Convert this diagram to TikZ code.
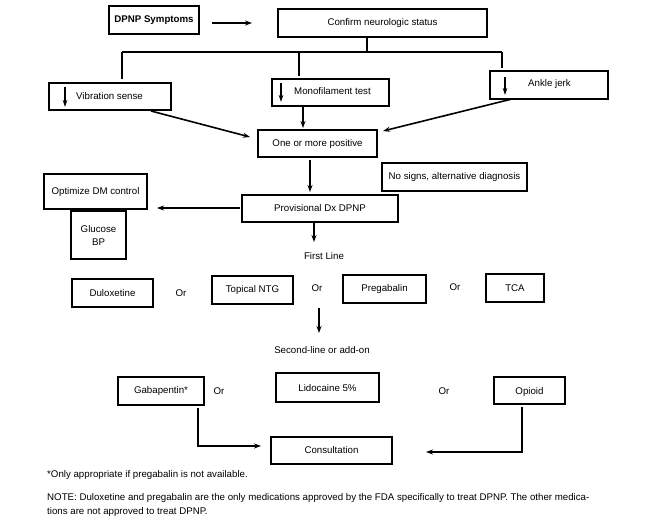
\documentclass[tikz,border=0pt]{standalone}
\usepackage{fontspec}
\setmainfont{Liberation Sans}
\usetikzlibrary{fit,arrows.meta}
\begin{document}
\begin{tikzpicture}[x=1pt,y=-1pt,
  every node/.style={font=\fontsize{9.7}{11.5}\selectfont},
  box/.style={draw, line width=2pt, inner sep=0pt},
  lab/.style={inner sep=0pt},
  conn/.style={line width=1.6pt},
  arr/.style={conn, -{Stealth[length=7pt,width=5pt]}},
  sarr/.style={line width=1.6pt, -{Stealth[length=7pt,width=4.5pt]}}]
\useasboundingbox (0,0) rectangle (662,519);
% boxes
\node[box, fit={(109,6)(199,34)}] (sym) {};
\node[lab, font=\fontsize{9.7}{11.5}\selectfont\bfseries] at (sym.center) {DPNP Symptoms};
\node[box, fit={(278,9)(487,37)}] (conf) {};
\node[lab] at (conf.center) {Confirm neurologic status};
\node[box, fit={(49,83)(171,110)}] (vib) {};
\node[lab, anchor=west] at (76,96) {Vibration sense};
\node[box, fit={(272,79)(389,106)}] (mono) {};
\node[lab, anchor=west] at (294,91) {Monofilament test};
\node[box, fit={(490,71)(608,99)}] (ankle) {};
\node[lab, anchor=west] at (528,84) {Ankle jerk};
\node[box, fit={(258,130)(377,157)}] (pos) {};
\node[lab] at (pos.center) {One or more positive};
\node[box, fit={(382,163)(527,191)}] (nosign) {};
\node[lab] at (nosign.center) {No signs, alternative diagnosis};
\node[box, fit={(44,174)(147,209)}] (opt) {};
\node[lab] at (opt.center) {Optimize DM control};
\node[box, fit={(71,211)(126,259)}] (gluc) {};
\node[lab, align=center, font=\fontsize{9.7}{13}\selectfont] at (gluc.center) {Glucose\\BP};
\node[box, fit={(242,195)(398,222)}] (prov) {};
\node[lab] at (prov.center) {Provisional Dx DPNP};
\node[lab] (first) at (324,256) {First Line};
\node[box, fit={(72,279)(153,307)}] (dul) {};
\node[lab] at (dul.center) {Duloxetine};
\node[lab] (or1) at (181,293) {Or};
\node[box, fit={(212,276)(293,304)}] (ntg) {};
\node[lab] at (ntg.center) {Topical NTG};
\node[lab] (or2) at (317,288) {Or};
\node[box, fit={(343,275)(426,303)}] (preg) {};
\node[lab] at (preg.center) {Pregabalin};
\node[lab] (or3) at (455,287) {Or};
\node[box, fit={(486,274)(544,302)}] (tca) {};
\node[lab] at (tca.center) {TCA};
\node[lab] (second) at (322,350) {Second-line or add-on};
\node[box, fit={(118,377)(204,405)}] (gaba) {};
\node[lab] at (gaba.center) {Gabapentin*};
\node[lab] (or4) at (219,391) {Or};
\node[box, fit={(276,373)(379,402)}] (lido) {};
\node[lab] at ([yshift=-1]lido.center) {Lidocaine 5\%};
\node[lab] (or5) at (444,391) {Or};
\node[box, fit={(494,377)(565,404)}] (opi) {};
\node[lab] at ([yshift=-1]opi.center) {Opioid};
\node[box, fit={(271,437)(392,464)}] (cons) {};
\node[lab] at (cons.center) {Consultation};
\node[lab, anchor=west] (foot) at (47,475) {*Only appropriate if pregabalin is not available.};
\node[lab, anchor=west] (note1) at (47,498) {NOTE: Duloxetine and pregabalin are the only medications approved by the FDA specifically to treat DPNP. The other medica-};
\node[lab, anchor=west] (note2) at (47,512) {tions are not approved to treat DPNP.};
% coordinates
\coordinate (a1) at (212,23);
\coordinate (a2) at (252,23);
\coordinate (c0) at (367,52);
\coordinate (cl) at (122,52);
\coordinate (cr) at (502,52);
\coordinate (dl) at (122,79);
\coordinate (dm) at (299,52);
\coordinate (dmb) at (299,76);
\coordinate (dr) at (502,68);
\coordinate (v1) at (65,87);
\coordinate (v2) at (65,107);
\coordinate (m1) at (281,83);
\coordinate (m2) at (281,102);
\coordinate (k1) at (505,77);
\coordinate (k2) at (505,95);
\coordinate (vs) at (151,111);
\coordinate (vt) at (250,137);
\coordinate (ms) at (303,106);
\coordinate (mt) at (303,128);
\coordinate (ks) at (512,99);
\coordinate (kt) at (383,131);
\coordinate (ps) at (310,160);
\coordinate (pt) at (310,192);
\coordinate (ls) at (240,208);
\coordinate (lt) at (157,208);
\coordinate (fs) at (314,223);
\coordinate (ft) at (314,242);
\coordinate (ss) at (319,308);
\coordinate (st) at (319,333);
\coordinate (g1) at (198,408);
\coordinate (g2) at (198,446);
\coordinate (g3) at (261,446);
\coordinate (o1) at (522,407);
\coordinate (o2) at (522,452);
\coordinate (o3) at (426,452);
% connectors
\draw[arr] (a1) -- (a2);
\draw[conn] (conf.south -| c0) -- (c0);
\draw[conn] (cl) -- (cr);
\draw[conn] (cl) -- (dl);
\draw[conn] (dm) -- (dmb);
\draw[conn] (cr) -- (dr);
\draw[sarr] (v1) -- (v2);
\draw[sarr] (m1) -- (m2);
\draw[sarr] (k1) -- (k2);
\draw[arr] (vs) -- (vt);
\draw[arr] (ms) -- (mt);
\draw[arr] (ks) -- (kt);
\draw[arr] (ps) -- (pt);
\draw[arr] (ls) -- (lt);
\draw[arr] (fs) -- (ft);
\draw[arr] (ss) -- (st);
\draw[arr] (g1) -- (g2) -- (g3);
\draw[arr] (o1) -- (o2) -- (o3);
\end{tikzpicture}
\end{document}
